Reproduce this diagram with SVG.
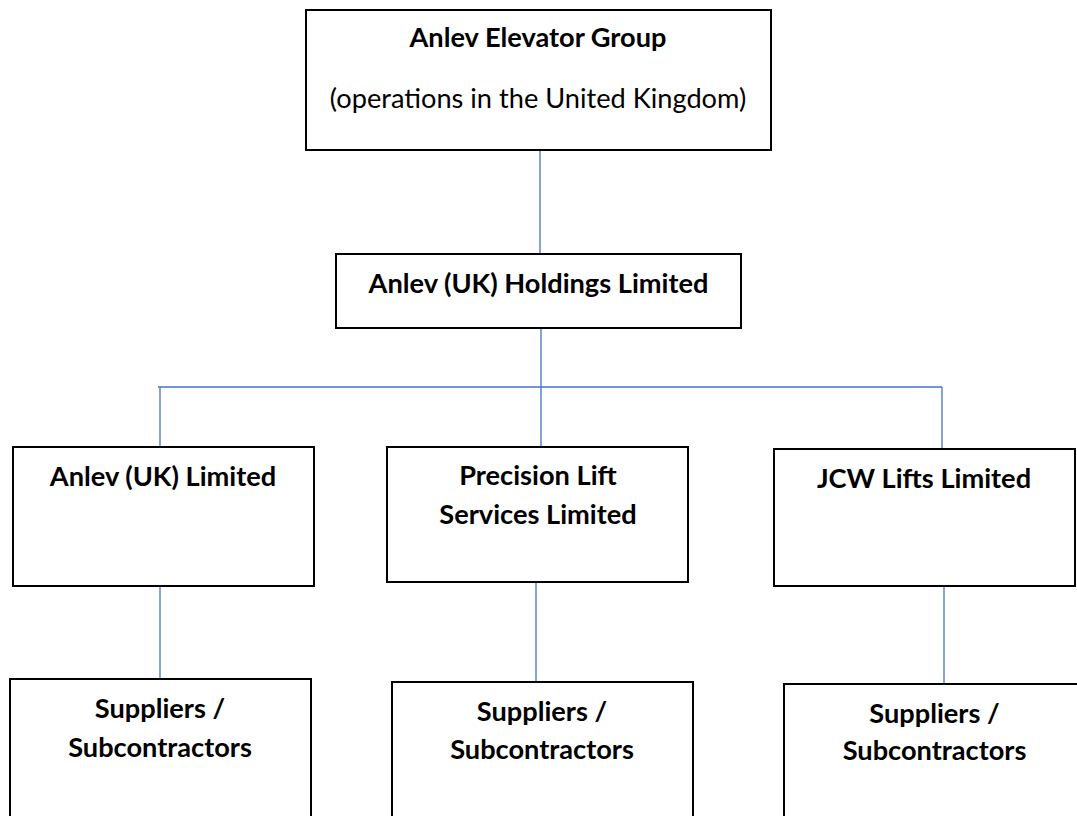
<svg xmlns="http://www.w3.org/2000/svg" width="1077" height="816" viewBox="0 0 1077 816">
<style>
.box{fill:#fff;stroke:#000;stroke-width:2}
.t{font-family:Lato,"Open Sans","Liberation Sans",sans-serif;font-size:27.2px;font-weight:bold;fill:#000;text-anchor:middle}
.r{font-weight:normal}
.c{stroke:#4472C4;stroke-width:1.3;fill:none}
</style>
<rect width="1077" height="816" fill="#fff"/>
<g id="connectors">
<line class="c" x1="540" y1="151" x2="540" y2="254"/>
<line class="c" x1="541" y1="328" x2="541" y2="447"/>
<line class="c" x1="158" y1="387" x2="942" y2="387"/>
<line class="c" x1="160" y1="387" x2="160" y2="447"/>
<line class="c" x1="942" y1="387" x2="942" y2="449"/>
<line class="c" x1="160" y1="586" x2="160" y2="679"/>
<line class="c" x1="536" y1="582" x2="536" y2="682"/>
<line class="c" x1="944" y1="586" x2="944" y2="684"/>
</g>
<g id="group">
<rect class="box" x="306" y="10" width="465" height="140"/>
<text class="t" x="538" y="47">Anlev Elevator Group</text>
<text class="t r" x="538" y="108">(operations in the United Kingdom)</text>
</g>
<g id="holdings">
<rect class="box" x="336" y="254" width="405" height="74"/>
<text class="t" x="538.5" y="293">Anlev (UK) Holdings Limited</text>
</g>
<g id="anlevuk">
<rect class="box" x="13" y="447" width="301" height="139"/>
<text class="t" x="163" y="486">Anlev (UK) Limited</text>
</g>
<g id="precision">
<rect class="box" x="387" y="447" width="301" height="135"/>
<text class="t" x="538" y="485">Precision Lift</text>
<text class="t" x="538" y="524">Services Limited</text>
</g>
<g id="jcw">
<rect class="box" x="774" y="449" width="301" height="137"/>
<text class="t" x="924" y="488">JCW Lifts Limited</text>
</g>
<g id="sup1">
<rect class="box" x="10" y="679" width="301" height="150"/>
<text class="t" x="160" y="718">Suppliers /</text>
<text class="t" x="160" y="757">Subcontractors</text>
</g>
<g id="sup2">
<rect class="box" x="392" y="682" width="301" height="150"/>
<text class="t" x="542" y="721">Suppliers /</text>
<text class="t" x="542" y="759">Subcontractors</text>
</g>
<g id="sup3">
<rect class="box" x="784" y="684" width="301" height="150"/>
<text class="t" x="934.5" y="723">Suppliers /</text>
<text class="t" x="934.5" y="760">Subcontractors</text>
</g>
</svg>
